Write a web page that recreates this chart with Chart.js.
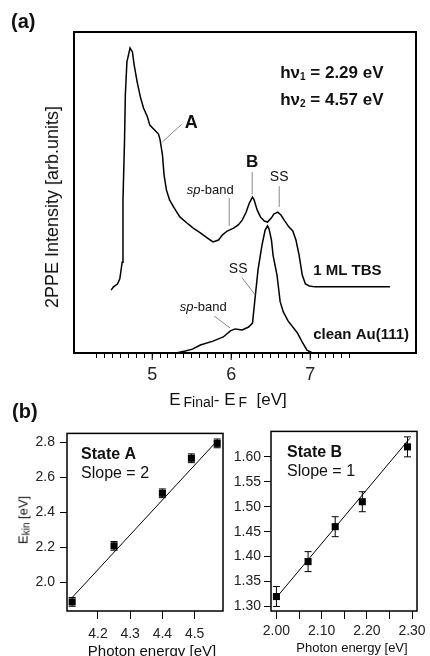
<!DOCTYPE html>
<html>
<head>
<meta charset="utf-8">
<script src="https://cdn.jsdelivr.net/npm/chart.js@4.4.1/dist/chart.umd.min.js"></script>
<style>
  body { margin:0; width:430px; height:656px; position:relative; overflow:hidden; background:#fff;
         font-family:"Liberation Sans", Arial, sans-serif; color:#111; }
  canvas { position:absolute; }
  .lbl { position:absolute; white-space:nowrap; line-height:1; }
  .sb { position:relative; top:2px; }
</style>
</head>
<body>
<canvas id="spec" width="430" height="420" style="left:0;top:0"></canvas>
<canvas id="stateA" width="230" height="236" style="left:0;top:420px"></canvas>
<canvas id="stateB" width="200" height="236" style="left:230px;top:420px"></canvas>

<div class="lbl" style="left:11px;top:11px;font-weight:bold;font-size:20px">(a)</div>
<div class="lbl" style="left:12px;top:401px;font-weight:bold;font-size:20px">(b)</div>
<div class="lbl" style="left:52px;top:207px;font-size:18px;transform:translate(-50%,-50%) rotate(-90deg)">2PPE Intensity [arb.units]</div>
<div class="lbl" style="left:228px;top:391px;font-size:17px;transform:translateX(-50%)">E<span class="sb" style="font-size:14px;margin-left:3px">Final</span>- E<span class="sb" style="font-size:14px;margin-left:3px">F</span>&nbsp; [eV]</div>
<div class="lbl" style="left:23px;top:520px;font-size:13px;transform:translate(-50%,-50%) rotate(-90deg)">E<span class="sb" style="font-size:10px">kin</span> [eV]</div>
<div class="lbl" style="left:152px;top:643px;font-size:15px;transform:translateX(-50%)">Photon energy [eV]</div>
<div class="lbl" style="left:352px;top:641px;font-size:13px;transform:translateX(-50%)">Photon energy [eV]</div>

<script>
Chart.defaults.font.family = '"Liberation Sans", Arial, sans-serif';
Chart.defaults.color = '#222';

// (a) 2PPE spectra, energy in eV, intensity in arbitrary units
const tbsEnergy = [4.48, 4.51, 4.56, 4.59, 4.62, 4.63, 4.65, 4.66, 4.68, 4.72, 4.75, 4.77, 4.81, 4.85, 4.89,
  4.94, 4.97, 5.03, 5.08, 5.10, 5.13, 5.15, 5.18, 5.22, 5.27, 5.35, 5.44, 5.52, 5.61, 5.70, 5.77, 5.84, 5.89,
  5.95, 6.03, 6.09, 6.14, 6.19, 6.23, 6.27, 6.29, 6.33, 6.37, 6.42, 6.46, 6.51, 6.54, 6.59, 6.63, 6.68, 6.73,
  6.78, 6.82, 6.86, 6.90, 6.94, 6.99, 7.06, 8.01];
const tbsIntensity = [19.6, 20.6, 21.5, 23.1, 28.3, 47.7, 66.4, 80.4, 90.7, 95.0, 93.8, 90.0, 84.4, 79.8, 76.3,
  73.5, 71.0, 69.5, 68.2, 66.4, 61.7, 55.5, 50.8, 47.7, 45.5, 42.4, 40.5, 38.9, 37.4, 35.8, 34.6, 35.2, 36.8,
  38.0, 38.9, 39.9, 41.4, 43.9, 46.7, 48.6, 47.7, 44.5, 42.4, 41.1, 40.8, 42.1, 43.3, 43.9, 43.0, 41.1, 39.3,
  38.0, 35.2, 30.5, 24.3, 21.5, 20.9, 20.6, 20.6];
const auEnergy = [5.30, 5.42, 5.51, 5.61, 5.77, 5.90, 5.99, 6.05, 6.14, 6.22, 6.27, 6.30, 6.34, 6.39, 6.43,
  6.46, 6.48, 6.51, 6.53, 6.58, 6.62, 6.66, 6.72, 6.77, 6.84, 6.90, 6.96, 7.03, 7.44];
const auIntensity = [0, 0.6, 1.2, 2.5, 3.7, 5.0, 6.9, 7.5, 7.2, 8.1, 9.3, 16.5, 25.9, 33.6, 38.3,
  39.6, 38.6, 35.2, 30.5, 24.3, 16.0, 12.8, 10.0, 8.4, 6.2, 3.4, 0.9, 0, 0];
const specLabels = [5, 6, 7];
const specTicks = [];
for (let i = 43; i <= 75; i++) specTicks.push(i / 10);

// (b) peak positions vs photon energy
const photonA = [4.12, 4.25, 4.40, 4.49, 4.57];
const ekinA = [1.89, 2.21, 2.51, 2.71, 2.795];
const errA = [0.025, 0.025, 0.025, 0.025, 0.025];
const fitAx = [4.12, 4.57];
const fitAy = [1.915, 2.81];
const ticksAx = [4.2, 4.3, 4.4, 4.5];
const ticksAy = [2.0, 2.2, 2.4, 2.6, 2.8];

const photonB = [2.00, 2.07, 2.13, 2.19, 2.29];
const ekinB = [1.32, 1.39, 1.46, 1.51, 1.62];
const errB = [0.02, 0.02, 0.02, 0.02, 0.02];
const fitBx = [2.00, 2.295];
const fitBy = [1.318, 1.637];
const ticksBx = [2.00, 2.05, 2.10, 2.15, 2.20, 2.25, 2.30];
const ticksBy = [1.30, 1.35, 1.40, 1.45, 1.50, 1.55, 1.60];

const pts = (xs, ys) => xs.map((x, i) => ({ x: x, y: ys[i] }));

// draws mixed-font text pieces in a row
function drawParts(ctx, x, y, parts, align) {
  let w = 0;
  parts.forEach(p => { ctx.font = p.f; p.w = ctx.measureText(p.t).width; w += p.w; });
  let cx = align === 'center' ? x - w / 2 : x;
  ctx.textAlign = 'left';
  ctx.textBaseline = 'middle';
  parts.forEach(p => { ctx.font = p.f; ctx.fillText(p.t, cx, y + (p.dy || 0)); cx += p.w; });
}

const F = '"Liberation Sans", Arial, sans-serif';
const specNotes = [
  { parts: [{ t: 'hν', f: 'bold 17px ' + F }, { t: '1', f: 'bold 10px ' + F, dy: 4 }, { t: ' = 2.29 eV', f: 'bold 17px ' + F }], at: [6.62, 87.2] },
  { parts: [{ t: 'hν', f: 'bold 17px ' + F }, { t: '2', f: 'bold 10px ' + F, dy: 4 }, { t: ' = 4.57 eV', f: 'bold 17px ' + F }], at: [6.62, 78.8] },
  { parts: [{ t: 'A', f: 'bold 18px ' + F }], at: [5.494, 71.6], align: 'center', line: [5.127, 65.7, 5.375, 71.3] },
  { parts: [{ t: 'B', f: 'bold 17px ' + F }], at: [6.266, 59.5], align: 'center', line: [6.266, 56.4, 6.266, 49.5] },
  { parts: [{ t: 'SS', f: '14px ' + F }], at: [6.608, 54.8], align: 'center', line: [6.608, 52.0, 6.608, 45.5] },
  { parts: [{ t: 'sp', f: 'italic 13px ' + F }, { t: '-band', f: '13px ' + F }], at: [5.734, 50.8], align: 'center', line: [5.975, 48.3, 5.975, 39.6] },
  { parts: [{ t: 'SS', f: '14px ' + F }], at: [6.089, 26.2], align: 'center', line: [6.139, 23.4, 6.304, 18.1] },
  { parts: [{ t: 'sp', f: 'italic 13px ' + F }, { t: '-band', f: '13px ' + F }], at: [5.646, 14.3], align: 'center', line: [5.785, 11.5, 5.987, 7.8] },
  { parts: [{ t: '1 ML TBS', f: 'bold 15px ' + F }], at: [7.038, 25.5] },
  { parts: [{ t: 'clean Au(111)', f: 'bold 15px ' + F }], at: [7.038, 5.6] }
];

const frame = {
  id: 'frame',
  afterDraw(chart, args, opts) {
    const { ctx, chartArea: a } = chart;
    ctx.save();
    ctx.lineWidth = opts.width || 1.5;
    ctx.strokeStyle = '#000';
    ctx.strokeRect(a.left, a.top, a.right - a.left, a.bottom - a.top);
    if (opts.majors) {
      ctx.lineWidth = 1;
      opts.majors.forEach(v => {
        const px = chart.scales.x.getPixelForValue(v);
        ctx.beginPath(); ctx.moveTo(px, a.bottom); ctx.lineTo(px, a.bottom + opts.majorLen); ctx.stroke();
      });
    }
    ctx.restore();
  }
};

const notes = {
  id: 'notes',
  afterDraw(chart, args, opts) {
    const { ctx } = chart;
    const xs = chart.scales.x, ys = chart.scales.y;
    ctx.save();
    ctx.fillStyle = '#111';
    (opts.items || []).forEach(n => {
      if (n.line) {
        ctx.strokeStyle = '#888';
        ctx.lineWidth = 1;
        ctx.beginPath();
        ctx.moveTo(xs.getPixelForValue(n.line[0]), ys.getPixelForValue(n.line[1]));
        ctx.lineTo(xs.getPixelForValue(n.line[2]), ys.getPixelForValue(n.line[3]));
        ctx.stroke();
      }
      drawParts(ctx, xs.getPixelForValue(n.at[0]), ys.getPixelForValue(n.at[1]), n.parts, n.align);
    });
    (opts.boxText || []).forEach(b => {
      drawParts(ctx, chart.chartArea.left + b.dx, chart.chartArea.top + b.dy, b.parts, 'left');
    });
    ctx.restore();
  }
};

const errorBars = {
  id: 'errorBars',
  afterDatasetsDraw(chart) {
    const { ctx } = chart;
    const ys = chart.scales.y;
    ctx.save();
    ctx.strokeStyle = '#000';
    ctx.lineWidth = 1;
    chart.data.datasets.forEach((ds, i) => {
      if (!ds.err) return;
      chart.getDatasetMeta(i).data.forEach((el, j) => {
        const y1 = ys.getPixelForValue(ds.data[j].y + ds.err[j]);
        const y2 = ys.getPixelForValue(ds.data[j].y - ds.err[j]);
        ctx.beginPath();
        ctx.moveTo(el.x, y1); ctx.lineTo(el.x, y2);
        ctx.moveTo(el.x - 3.5, y1); ctx.lineTo(el.x + 3.5, y1);
        ctx.moveTo(el.x - 3.5, y2); ctx.lineTo(el.x + 3.5, y2);
        ctx.stroke();
      });
    });
    ctx.restore();
  }
};

new Chart(document.getElementById('spec'), {
  type: 'line',
  data: {
    datasets: [
      { data: pts(tbsEnergy, tbsIntensity), borderColor: '#000', borderWidth: 1.5, pointRadius: 0, tension: 0, clip: false },
      { data: pts(auEnergy, auIntensity), borderColor: '#000', borderWidth: 1.5, pointRadius: 0, tension: 0, clip: false }
    ]
  },
  options: {
    responsive: false,
    animation: false,
    events: [],
    layout: { padding: { top: 32, right: 14, left: 74, bottom: 0 } },
    scales: {
      x: {
        type: 'linear', min: 4.01, max: 8.34, bounds: 'data',
        afterBuildTicks: s => { s.ticks = specTicks.map(v => ({ value: v })); },
        afterFit: s => { s.height = 67; },
        border: { display: false },
        grid: { drawOnChartArea: false, drawTicks: true, tickLength: 5, tickColor: '#000', tickWidth: 1 },
        ticks: {
          autoSkip: false, maxRotation: 0, padding: 6, color: '#222', font: { size: 18 },
          callback: v => specLabels.includes(Math.round(v * 10) / 10) ? String(Math.round(v)) : ''
        }
      },
      y: { type: 'linear', min: 0, max: 100, display: false }
    },
    plugins: {
      legend: { display: false },
      tooltip: { enabled: false },
      frame: { width: 2, majors: specLabels, majorLen: 7 },
      notes: { items: specNotes }
    }
  },
  plugins: [frame, notes]
});

function stateChart(id, px, py, err, fx, fy, tx, ty, xr, yr, opt) {
  return new Chart(document.getElementById(id), {
    type: 'scatter',
    data: {
      datasets: [
        { data: pts(fx, fy), showLine: true, borderColor: '#000', borderWidth: 1, pointRadius: 0, clip: false },
        { data: pts(px, py), err: err, pointStyle: 'rect', pointRadius: 5, backgroundColor: '#000', borderColor: '#000', borderWidth: 0, clip: false }
      ]
    },
    options: {
      responsive: false,
      animation: false,
      events: [],
      layout: { padding: { top: 7, right: opt.right, left: 0, bottom: 0 } },
      scales: {
        x: {
          type: 'linear', min: xr[0], max: xr[1], bounds: 'data',
          afterBuildTicks: s => { s.ticks = tx.map(v => ({ value: v })); },
          afterFit: s => { s.height = 45; },
          border: { display: false },
          grid: { drawOnChartArea: false, tickLength: 8, tickColor: '#000' },
          ticks: { autoSkip: false, maxRotation: 0, padding: opt.xpad, color: '#222', font: { size: 14 }, callback: opt.xfmt }
        },
        y: {
          type: 'linear', min: yr[0], max: yr[1], bounds: 'data',
          afterBuildTicks: s => { s.ticks = ty.map(v => ({ value: v })); },
          afterFit: s => { s.width = opt.yw; },
          border: { display: false },
          grid: { drawOnChartArea: false, tickLength: 7, tickColor: '#000' },
          ticks: { autoSkip: false, padding: opt.ypad, color: '#222', font: { size: 14 }, callback: opt.yfmt }
        }
      },
      plugins: {
        legend: { display: false },
        tooltip: { enabled: false },
        frame: { width: 1.5 },
        notes: { boxText: opt.boxText }
      }
    },
    plugins: [frame, errorBars, notes]
  });
}

stateChart('stateA', photonA, ekinA, errA, fitAx, fitAy, ticksAx, ticksAy, [4.104, 4.588], [1.838, 2.852], {
  right: 7, yw: 67, xpad: 7, ypad: 5,
  xfmt: v => v.toFixed(1), yfmt: v => v.toFixed(1),
  boxText: [
    { dx: 14, dy: 21, parts: [{ t: 'State A', f: 'bold 16px ' + F }] },
    { dx: 14, dy: 40, parts: [{ t: 'Slope = 2', f: '16px ' + F }] }
  ]
});

stateChart('stateB', photonB, ekinB, errB, fitBx, fitBy, ticksBx, ticksBy, [1.988, 2.311], [1.291, 1.651], {
  right: 10, yw: 41, xpad: 4, ypad: 3,
  xfmt: v => (Math.round(v * 100) % 10 === 0 ? v.toFixed(2) : ''), yfmt: v => v.toFixed(2),
  boxText: [
    { dx: 16, dy: 21, parts: [{ t: 'State B', f: 'bold 16px ' + F }] },
    { dx: 16, dy: 40, parts: [{ t: 'Slope = 1', f: '16px ' + F }] }
  ]
});
</script>
</body>
</html>
